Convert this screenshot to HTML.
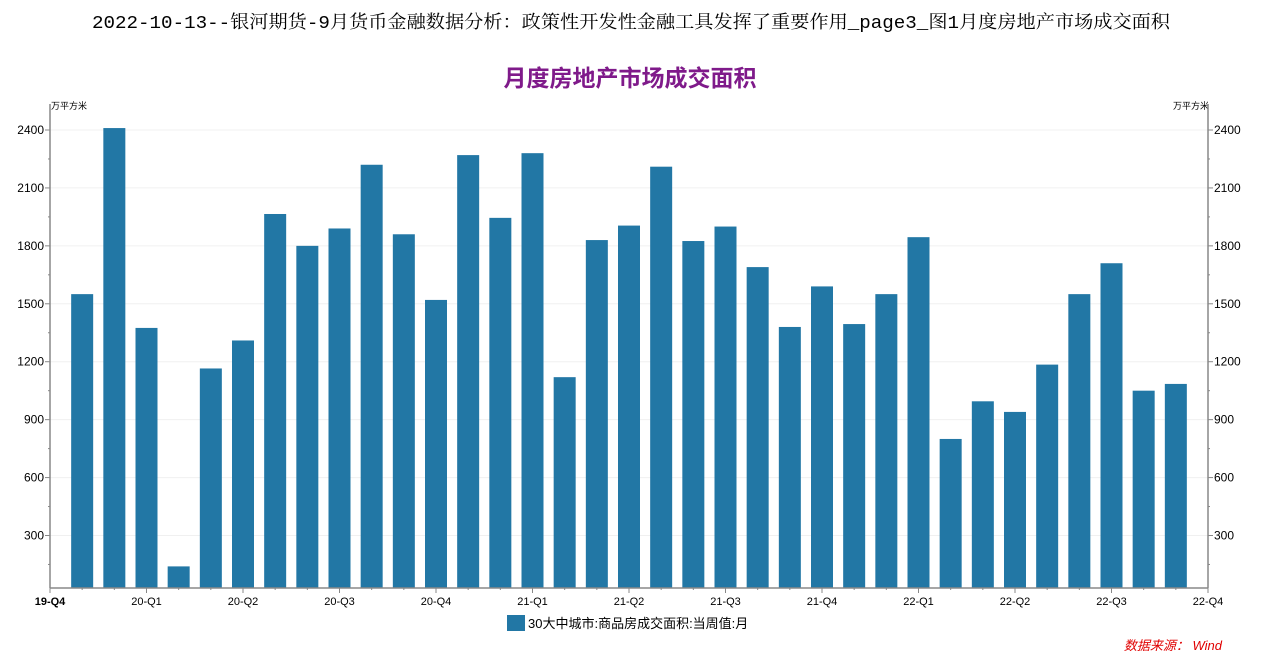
<!DOCTYPE html>
<html><head><meta charset="utf-8"><style>
body{margin:0;background:#fff;width:1263px;height:655px;overflow:hidden;font-family:"Liberation Sans","Noto Sans CJK SC",sans-serif}
</style></head><body>
<svg id="c" width="1263" height="655" xmlns="http://www.w3.org/2000/svg">
<text x="92" y="28" textLength="1078" lengthAdjust="spacingAndGlyphs" font-size="18" font-family="Liberation Mono,Noto Serif CJK SC,monospace" fill="#000">2022-10-13--银河期货-9月货币金融数据分析：政策性开发性金融工具发挥了重要作用_page3_图1月度房地产市场成交面积</text>
<text x="630" y="86" text-anchor="middle" font-size="23" font-weight="bold" fill="#7f1a8a">月度房地产市场成交面积</text>
<text x="51" y="109" font-size="9" fill="#000">万平方米</text>
<text x="1173" y="109" font-size="9" fill="#000">万平方米</text>
<g id="grid"></g><g id="bars"></g><g id="axes"></g>
<rect x="507" y="615" width="18" height="16" fill="#2277a5"/>
<text x="528" y="628" font-size="13" fill="#000">30大中城市:商品房成交面积:当周值:月</text>
<text x="1222" y="650" text-anchor="end" font-size="13" font-style="italic" fill="#e00000">数据来源：  Wind</text>
</svg>
<script>
const values=[1550,2410,1375,140,1165,1310,1965,1800,1890,2220,1860,1520,2270,1945,2280,1120,1830,1905,2210,1825,1900,1690,1380,1590,1395,1550,1845,800,995,940,1185,1550,1710,1050,1085];
const yTicks=[300,600,900,1200,1500,1800,2100,2400];
const xLabels=["19-Q4","20-Q1","20-Q2","20-Q3","20-Q4","21-Q1","21-Q2","21-Q3","21-Q4","22-Q1","22-Q2","22-Q3","22-Q4"];
const NS="http://www.w3.org/2000/svg";
const X0=50,X1=1208,SLOTS=36,BASE=588;
const sx=k=>X0+(X1-X0)*k/SLOTS;
const sy=v=>535.5-(v-300)*405.5/2100;
function mk(p,tag,a){const e=document.createElementNS(NS,tag);for(const k in a)e.setAttribute(k,a[k]);p.appendChild(e);return e;}
const grid=document.getElementById('grid'),bars=document.getElementById('bars'),axes=document.getElementById('axes');
yTicks.forEach(v=>{
  const g=mk(grid,'line',{x1:X0,x2:X1,y1:sy(v),y2:sy(v),stroke:'#f0f0f0'});
  
  
  const t=mk(axes,'text',{x:44,y:sy(v)+4,'text-anchor':'end','font-size':12,fill:'#000'});t.textContent=v;
  
  
  const t2=mk(axes,'text',{x:1214,y:sy(v)+4,'font-size':12,fill:'#000'});t2.textContent=v;
  
  
  mk(axes,'line',{x1:X0-5,x2:X0,y1:sy(v),y2:sy(v),stroke:'#888'});
  mk(axes,'line',{x1:X1,x2:X1+5,y1:sy(v),y2:sy(v),stroke:'#888'});
  mk(axes,'line',{x1:X0-2,x2:X0,y1:sy(v-150),y2:sy(v-150),stroke:'#888'});
  mk(axes,'line',{x1:X1,x2:X1+2,y1:sy(v-150),y2:sy(v-150),stroke:'#888'});
});
values.forEach((v,i)=>{
  const cx=sx(i+1);
  const r=mk(bars,'rect',{x:cx-11,y:sy(v),width:22,height:BASE-sy(v),fill:'#2277a5'});
  
  
});
mk(axes,'line',{x1:X0,x2:X0,y1:104,y2:BASE,stroke:'#888','stroke-width':1.5});
mk(axes,'line',{x1:X1,x2:X1,y1:104,y2:BASE,stroke:'#888','stroke-width':1.5});
mk(axes,'line',{x1:X0,x2:X1,y1:BASE,y2:BASE,stroke:'#888','stroke-width':1.5});
for(let k=0;k<=SLOTS;k++){mk(axes,'line',{x1:sx(k),x2:sx(k),y1:BASE,y2:BASE+(k%3?2:5),stroke:'#888'});}
xLabels.forEach((l,i)=>{
  const t=mk(axes,'text',{x:sx(i*3),y:605,'text-anchor':'middle','font-size':11,fill:'#000','font-weight':i==0?'bold':'normal'});t.textContent=l;
  
  
});
</script>
</body></html>
